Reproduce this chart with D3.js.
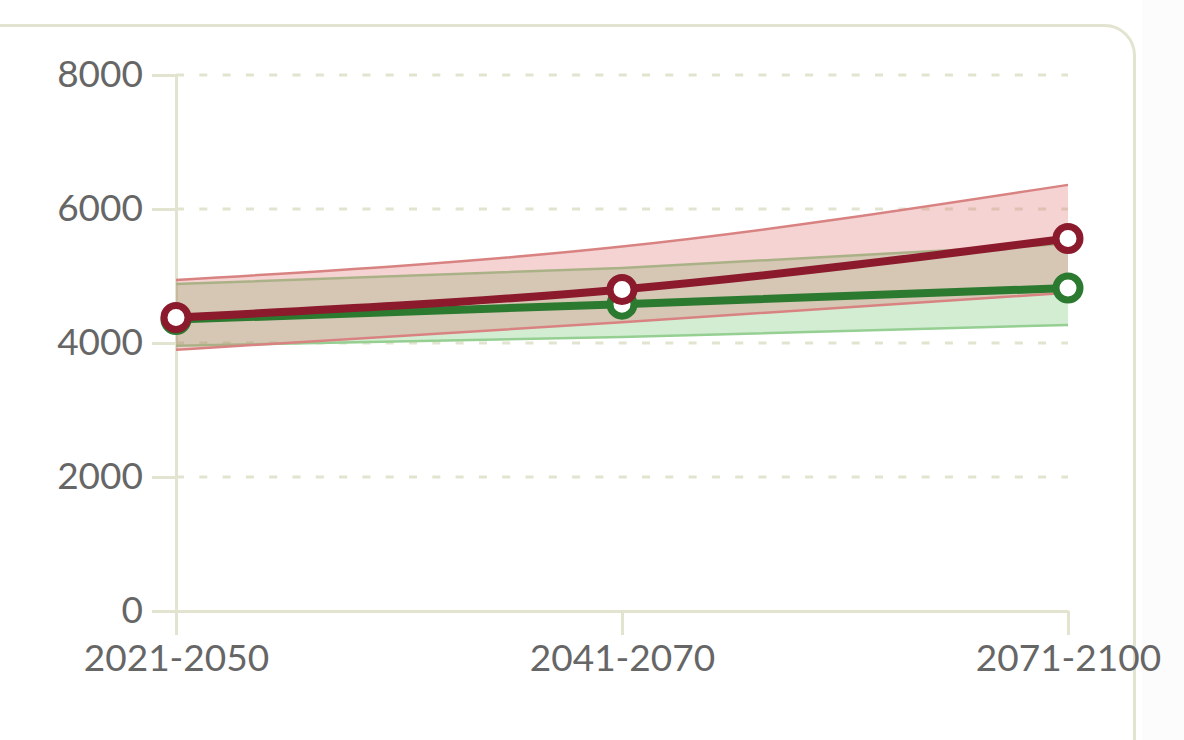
<!DOCTYPE html>
<html lang="en">
<head>
    <meta charset="UTF-8">
    <title>Projection bands</title>
    <script src="https://cdn.jsdelivr.net/npm/d3@7"></script>
    <style>
        html, body { margin: 0; padding: 0; background: #ffffff; }
        svg { display: block; }
        .tick text { font-family: Lato, "Noto Sans", sans-serif; fill: #666666; }
    </style>
</head>
<body>
    <div id="chart"></div>

    <script>
        // values
        const periods = ['2021-2050', '2041-2070', '2071-2100'];
        const yTicks = [0, 2000, 4000, 6000, 8000];

        const redMean = [4380, 4800, 5560];
        const redLow = [3900, 4310, 4750];
        const redHigh = [4940, 5440, 6360];

        const greenMean = [4350, 4580, 4820];
        const greenLow = [3960, 4090, 4270];
        const greenHigh = [4880, 5120, 5480];

        const width = 1184;
        const height = 740;
        const axisColor = '#e2e4cf';

        const svg = d3.select('#chart')
            .append('svg')
            .attr('width', width)
            .attr('height', height);

        // page strip on the right and the card
        svg.append('rect')
            .attr('x', 1142).attr('y', 0)
            .attr('width', width - 1142).attr('height', height)
            .attr('fill', '#fcfcfc');

        svg.append('rect')
            .attr('x', -40).attr('y', 25.5)
            .attr('width', 1174.5).attr('height', 800)
            .attr('rx', 30)
            .attr('fill', '#ffffff')
            .attr('stroke', axisColor)
            .attr('stroke-width', 3);

        const x = d3.scalePoint().domain(periods).range([176, 1068]);
        const y = d3.scaleLinear().domain([0, 8000]).range([611, 75]);

        // dashed grid
        svg.append('g')
            .selectAll('line')
            .data(yTicks.filter(d => d > 0))
            .enter()
            .append('line')
            .attr('x1', x.range()[0])
            .attr('x2', x.range()[1])
            .attr('y1', d => y(d))
            .attr('y2', d => y(d))
            .attr('stroke', axisColor)
            .attr('stroke-width', 3)
            .attr('stroke-dasharray', '8,15.3');

        // axes
        const yAxis = svg.append('g')
            .attr('transform', `translate(${x.range()[0]},0)`)
            .call(d3.axisLeft(y).tickValues(yTicks).tickFormat(d3.format('d'))
                .tickSize(24).tickSizeOuter(0).tickPadding(9));

        const xAxis = svg.append('g')
            .attr('transform', `translate(0,${y(0)})`)
            .call(d3.axisBottom(x).tickSize(24).tickSizeOuter(0).tickPadding(10));

        [yAxis, xAxis].forEach(g => {
            g.selectAll('path, line').attr('stroke', axisColor).attr('stroke-width', 3);
            g.selectAll('text').attr('font-size', 37).attr('fill', '#6a6a6a');
        });
        yAxis.select('.domain').attr('stroke-linecap', 'square');

        const curve = d3.curveMonotoneX;

        const area = d3.area()
            .x(d => x(d.p))
            .y0(d => y(d.lo))
            .y1(d => y(d.hi))
            .curve(curve);

        const line = d3.line()
            .x(d => x(d.p))
            .y(d => y(d.v))
            .curve(curve);

        const series = [
            { mean: greenMean, low: greenLow, high: greenHigh,
              fill: 'rgba(110,195,110,0.30)', edge: '#95cf92', color: '#2b7a30' },
            { mean: redMean, low: redLow, high: redHigh,
              fill: 'rgba(222,110,110,0.30)', edge: '#d98282', color: '#8b1a2c' }
        ];

        // bands first, then lines on top
        for (const s of series) {
            const band = periods.map((p, i) => ({ p: p, lo: s.low[i], hi: s.high[i] }));
            svg.append('path')
                .datum(band)
                .attr('d', area)
                .attr('fill', s.fill);
            for (const key of ['low', 'high']) {
                svg.append('path')
                    .datum(periods.map((p, i) => ({ p: p, v: s[key][i] })))
                    .attr('d', line)
                    .attr('fill', 'none')
                    .attr('stroke', s.edge)
                    .attr('stroke-width', 2.5);
            }
        }

        for (const s of series) {
            const pts = periods.map((p, i) => ({ p: p, v: s.mean[i] }));
            svg.append('path')
                .datum(pts)
                .attr('d', line)
                .attr('fill', 'none')
                .attr('stroke', s.color)
                .attr('stroke-width', 8);

            svg.append('g')
                .selectAll('circle')
                .data(pts)
                .enter()
                .append('circle')
                .attr('cx', d => x(d.p))
                .attr('cy', d => y(d.v))
                .attr('r', 12)
                .attr('fill', '#ffffff')
                .attr('stroke', s.color)
                .attr('stroke-width', 7);
        }
    </script>
</body>
</html>
